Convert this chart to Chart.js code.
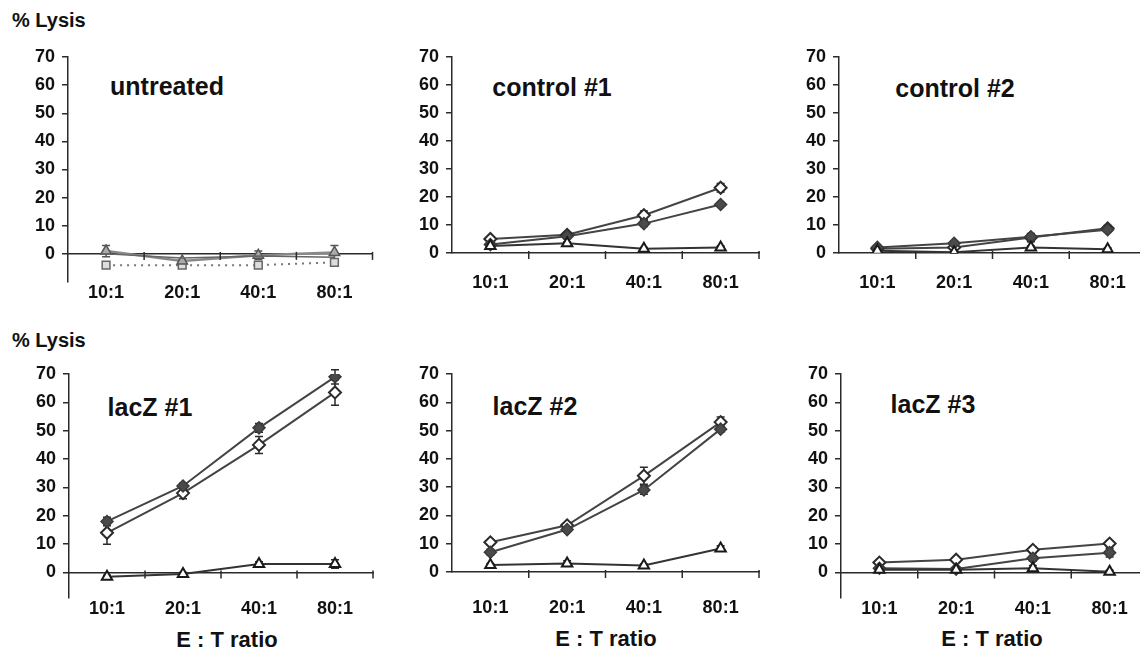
<!DOCTYPE html>
<html>
<head>
<meta charset="utf-8">
<script src="https://cdn.jsdelivr.net/npm/chart.js@4"></script>
<style>
  body { margin: 0; width: 1140px; height: 651px; overflow: hidden; background: #fff; position: relative; font-family: "Liberation Sans", Arial, sans-serif; }
  canvas { position: absolute; }
  .lbl { position: absolute; font-weight: bold; color: #111; white-space: nowrap; line-height: 1; transform: translate(-50%, -50%); }
  .ylab { font-size: 20px; transform: translate(0, -50%); }
  .panel { font-size: 25px; }
  .xlab { font-size: 22px; }
</style>
</head>
<body>
<div class="lbl ylab" style="left:12px;top:20px">% Lysis</div>
<div class="lbl ylab" style="left:12px;top:340px">% Lysis</div>

<div class="lbl panel" style="left:167px;top:86px">untreated</div>
<div class="lbl panel" style="left:552px;top:87px">control #1</div>
<div class="lbl panel" style="left:955px;top:88px">control #2</div>
<div class="lbl panel" style="left:150px;top:407px">lacZ #1</div>
<div class="lbl panel" style="left:535px;top:406px">lacZ #2</div>
<div class="lbl panel" style="left:933px;top:404px">lacZ #3</div>

<div class="lbl xlab" style="left:227px;top:640px">E : T ratio</div>
<div class="lbl xlab" style="left:606px;top:639px">E : T ratio</div>
<div class="lbl xlab" style="left:992px;top:639px">E : T ratio</div>

<canvas id="untreated" width="380" height="300" style="left:0px;top:0px"></canvas>
<canvas id="control1" width="383" height="300" style="left:384px;top:0px"></canvas>
<canvas id="control2" width="383" height="300" style="left:771px;top:0px"></canvas>
<canvas id="lacz1" width="380" height="300" style="left:1px;top:320px"></canvas>
<canvas id="lacz2" width="383" height="300" style="left:384px;top:320px"></canvas>
<canvas id="lacz3" width="383" height="300" style="left:773px;top:320px"></canvas>

<script>
const ratios = ['10:1', '20:1', '40:1', '80:1'];
const yTicks = [0, 10, 20, 30, 40, 50, 60, 70];

// untreated
const untreatedTri = [1, -2.5, -0.5, 0.5];
const untreatedTriErr = [2, 0.5, 1.5, 2.5];
const untreatedMid = [0, -1.5, -0.8, -1.2];
const untreatedSq = [-4, -4, -4, -3];
const untreatedSqErr = [1, 0.5, 1, 0.8];

// control #1
const control1Open = [5, 6.5, 13.5, 23.3];
const control1OpenErr = [0.8, 0.8, 1.5, 1.5];
const control1Filled = [3, 6, 10.5, 17.3];
const control1FilledErr = [0.5, 0.8, 1, 0.5];
const control1Tri = [2.5, 3.5, 1.5, 2];
const control1TriErr = [0.8, 0.5, 0.5, 0.5];

// control #2
const control2Open = [1.5, 2, 5.5, 8.8];
const control2OpenErr = [0.5, 0.5, 1.5, 1];
const control2Filled = [2, 3.5, 5.8, 8.3];
const control2FilledErr = [0.5, 0.5, 0.8, 0.8];
const control2Tri = [0.8, 0.3, 2, 1.3];
const control2TriErr = [0.3, 0.3, 0.5, 0.5];

// lacZ #1
const lacz1Filled = [18, 30.5, 51, 69];
const lacz1FilledErr = [1.5, 1, 1.5, 2.5];
const lacz1Open = [14, 28, 45, 63.5];
const lacz1OpenErr = [4, 2, 3, 4.5];
const lacz1Tri = [-1.5, -0.5, 3, 3];
const lacz1TriErr = [0.5, 0.5, 0.8, 1.5];

// lacZ #2
const lacz2Open = [10.5, 16.5, 34, 53];
const lacz2OpenErr = [0.8, 0.8, 3, 1.8];
const lacz2Filled = [7, 15, 29, 50.5];
const lacz2FilledErr = [1, 0.8, 1.5, 1];
const lacz2Tri = [2.5, 3, 2.3, 8.3];
const lacz2TriErr = [0.5, 1, 0.5, 1];

// lacZ #3
const lacz3Open = [3.5, 4.5, 8, 10.2];
const lacz3OpenErr = [0.5, 0.5, 1, 1];
const lacz3Filled = [1.5, 1.2, 5, 7];
const lacz3FilledErr = [0.5, 0.3, 1, 1.5];
const lacz3Tri = [1, 1, 1.5, 0.3];
const lacz3TriErr = [0.5, 0.3, 1, 0.5];

const ink = '#2a2a2a';
const lineCol = '#444';

// error bars, drawn under the markers
const errorBars = {
    id: 'errorBars',
    beforeDatasetsDraw(chart) {
        const ctx = chart.ctx;
        const y = chart.scales.y;
        chart.data.datasets.forEach((ds, i) => {
            if (!ds.err) return;
            const meta = chart.getDatasetMeta(i);
            ctx.save();
            ctx.strokeStyle = ds.errColor || ink;
            ctx.lineWidth = 1.5;
            meta.data.forEach((pt, j) => {
                const top = y.getPixelForValue(ds.data[j] + ds.err[j]);
                const bot = y.getPixelForValue(ds.data[j] - ds.err[j]);
                ctx.beginPath();
                ctx.moveTo(pt.x, top); ctx.lineTo(pt.x, bot);
                ctx.moveTo(pt.x - 4, top); ctx.lineTo(pt.x + 4, top);
                ctx.moveTo(pt.x - 4, bot); ctx.lineTo(pt.x + 4, bot);
                ctx.stroke();
            });
            ctx.restore();
        });
    }
};

// small marks between the categories, on the zero line
const zeroTicks = {
    id: 'zeroTicks',
    afterDraw(chart) {
        const ctx = chart.ctx;
        const x = chart.scales.x;
        const y0 = chart.scales.y.getPixelForValue(0);
        ctx.save();
        ctx.strokeStyle = ink;
        ctx.lineWidth = 1.5;
        for (let i = 1; i <= ratios.length; i++) {
            const px = x.getPixelForValue(i - 0.5);
            ctx.beginPath();
            ctx.moveTo(px, y0 - 2);
            ctx.lineTo(px, y0 + 6);
            ctx.stroke();
        }
        ctx.restore();
    }
};

function openSeries(data, err) {
    return { data: data, err: err, borderColor: lineCol, borderWidth: 2,
        pointStyle: 'rectRot', pointRadius: 6, pointBackgroundColor: '#fff',
        pointBorderColor: ink, pointBorderWidth: 2 };
}
function filledSeries(data, err) {
    return { data: data, err: err, borderColor: lineCol, borderWidth: 2,
        pointStyle: 'rectRot', pointRadius: 6, pointBackgroundColor: '#4a4a4a',
        pointBorderColor: '#3a3a3a', pointBorderWidth: 1.5 };
}
function triSeries(data, err) {
    return { data: data, err: err, borderColor: '#333', borderWidth: 2,
        pointStyle: 'triangle', pointRadius: 6, pointBackgroundColor: '#fff',
        pointBorderColor: '#1a1a1a', pointBorderWidth: 2 };
}

function makePanel(id, datasets, yMin, topPad, xHeight, labelPad) {
    new Chart(document.getElementById(id), {
        type: 'line',
        data: { labels: ratios, datasets: datasets },
        options: {
            responsive: false,
            animation: false,
            layout: { padding: { top: topPad, right: 5, bottom: 0, left: 0 } },
            plugins: { legend: { display: false }, tooltip: { enabled: false } },
            scales: {
                x: {
                    offset: true,
                    grid: { display: false, drawTicks: false },
                    border: { display: false },
                    ticks: { color: '#111', padding: labelPad, font: { family: 'Liberation Sans', size: 18, weight: 'bold' } },
                    afterFit: (s) => { s.height = xHeight; }
                },
                x2: {
                    axis: 'x',
                    type: 'category',
                    position: { y: 0 },
                    offset: true,
                    grid: { display: false },
                    border: { display: true, color: ink, width: 1.5 },
                    ticks: { display: false }
                },
                y: {
                    min: yMin,
                    max: 70,
                    afterBuildTicks: (s) => { s.ticks = yTicks.map(v => ({ value: v })); },
                    grid: { drawOnChartArea: false, drawTicks: true, tickLength: 6, color: ink, lineWidth: 1.5 },
                    border: { display: true, color: ink, width: 1.5 },
                    ticks: { color: '#111', padding: 7, font: { family: 'Liberation Sans', size: 18, weight: 'bold' } },
                    afterFit: (s) => { s.width = 68; }
                }
            }
        },
        plugins: [errorBars, zeroTicks]
    });
}

makePanel('untreated', [
    { data: untreatedMid, borderColor: '#666', borderWidth: 1.5, pointRadius: 0 },
    { data: untreatedTri, err: untreatedTriErr, errColor: '#555', borderColor: '#888', borderWidth: 2.5,
      pointStyle: 'triangle', pointRadius: 6, pointBackgroundColor: '#aaa', pointBorderColor: '#555', pointBorderWidth: 1.5 },
    { data: untreatedSq, err: untreatedSqErr, errColor: '#444', borderColor: '#777', borderWidth: 2, borderDash: [2, 5],
      pointStyle: 'rect', pointRadius: 5.5, pointBackgroundColor: '#ddd', pointBorderColor: '#666', pointBorderWidth: 1.5 }
], -10, 57, 18, 0);

makePanel('control1', [
    triSeries(control1Tri, control1TriErr),
    filledSeries(control1Filled, control1FilledErr),
    openSeries(control1Open, control1OpenErr)
], 0, 57, 47, 19);

makePanel('control2', [
    triSeries(control2Tri, control2TriErr),
    filledSeries(control2Filled, control2FilledErr),
    openSeries(control2Open, control2OpenErr)
], 0, 57, 47, 19);

makePanel('lacz1', [
    triSeries(lacz1Tri, lacz1TriErr),
    filledSeries(lacz1Filled, lacz1FilledErr),
    openSeries(lacz1Open, lacz1OpenErr)
], -9, 54, 22, 0);

makePanel('lacz2', [
    triSeries(lacz2Tri, lacz2TriErr),
    filledSeries(lacz2Filled, lacz2FilledErr),
    openSeries(lacz2Open, lacz2OpenErr)
], 0, 54, 48, 25);

makePanel('lacz3', [
    triSeries(lacz3Tri, lacz3TriErr),
    filledSeries(lacz3Filled, lacz3FilledErr),
    openSeries(lacz3Open, lacz3OpenErr)
], -9, 54, 22, 0);
</script>
</body>
</html>
